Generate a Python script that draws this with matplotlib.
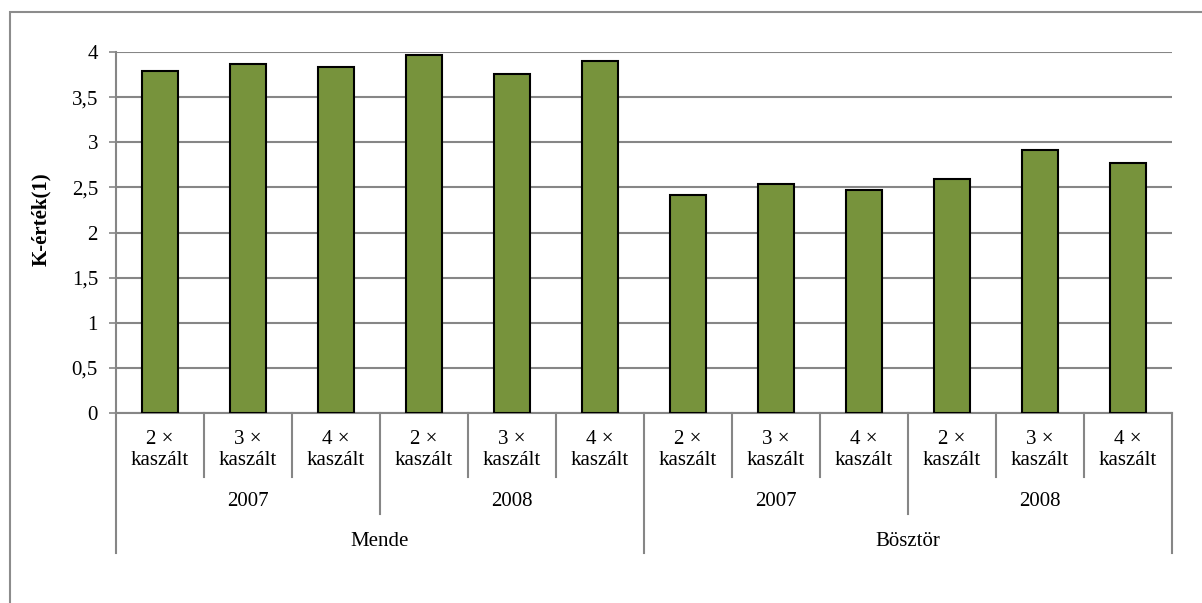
import matplotlib.pyplot as plt
import matplotlib.transforms as mtransforms
from matplotlib.patches import Rectangle
import numpy as np

plt.rcParams['font.family'] = ['Liberation Serif', 'DejaVu Serif']

# K-érték(1) per site / year / mowing treatment
sites = ["Mende", "Bösztör"]
years = ["2007", "2008"]
treatments = ["2 ×\nkaszált", "3 ×\nkaszált", "4 ×\nkaszált"]
mende_2007 = [3.79, 3.87, 3.83]
mende_2008 = [3.97, 3.76, 3.90]
bosztor_2007 = [2.42, 2.54, 2.47]
bosztor_2008 = [2.59, 2.91, 2.77]

values = mende_2007 + mende_2008 + bosztor_2007 + bosztor_2008
n = len(values)
x = np.arange(n)

W, H = 1202, 603
fig = plt.figure(figsize=(W / 100, H / 100), dpi=100)

# outer chart border
fig.patches.append(Rectangle((9.5 / W, -0.1), 2, 1 - 12 / H + 0.1, fill=False,
                             edgecolor='#8c8c8c', linewidth=1.5,
                             transform=fig.transFigure, figure=fig))

left, right, top, bottom = 116, 1171.7, 52, 413
ax = fig.add_axes([left / W, 1 - bottom / H, (right - left) / W, (bottom - top) / H])

grid_col = '#868686'
fs = 15
ax.bar(x, values, width=0.41, color='#77933C', edgecolor='black', linewidth=1.5, zorder=3)

ax.set_xlim(-0.5, n - 0.5)
ax.set_ylim(0, 4)
yt = np.arange(0, 4.01, 0.5)
ax.set_yticks(yt)
ax.set_yticklabels([f"{v:g}".replace('.', ',') for v in yt], fontsize=fs)
ax.yaxis.grid(True, color=grid_col, linewidth=1.5, zorder=0)
ax.tick_params(axis='y', length=5, width=1.2, color=grid_col, pad=8)
ax.set_xticks([])

for s in ['top', 'right']:
    ax.spines[s].set_visible(False)
for s in ['left', 'bottom']:
    ax.spines[s].set_color(grid_col)
    ax.spines[s].set_linewidth(1.5)

fig.text(40.7 / W, 1 - 219 / H, "K-érték(1)", rotation=90, ha='center', va='center',
         fontsize=fs, fontweight='bold')

trans = mtransforms.blended_transform_factory(ax.transData, ax.transAxes)
ph = bottom - top


def ay(ypix):
    return (bottom - ypix) / ph


# separators of the three label rows
y1, y2, y3 = ay(476.7), ay(514), ay(552.7)
for i in range(n + 1):
    xb = i - 0.5
    if i % 6 == 0:
        y_end = y3
    elif i % 3 == 0:
        y_end = y2
    else:
        y_end = y1
    ax.plot([xb, xb], [0, y_end], color=grid_col, linewidth=1.5,
            transform=trans, clip_on=False)

# labels
for i in range(n):
    ax.text(i, ay(450), treatments[i % 3], transform=trans, ha='center', va='center',
            fontsize=fs, linespacing=1.2)
for k in range(4):
    ax.text(3 * k + 1, ay(501.7), years[k % 2], transform=trans, ha='center',
            va='center', fontsize=fs)
for k in range(2):
    ax.text(6 * k + 2.5, ay(541), sites[k], transform=trans, ha='center',
            va='center', fontsize=fs)

fig.savefig("out.png", dpi=100)
